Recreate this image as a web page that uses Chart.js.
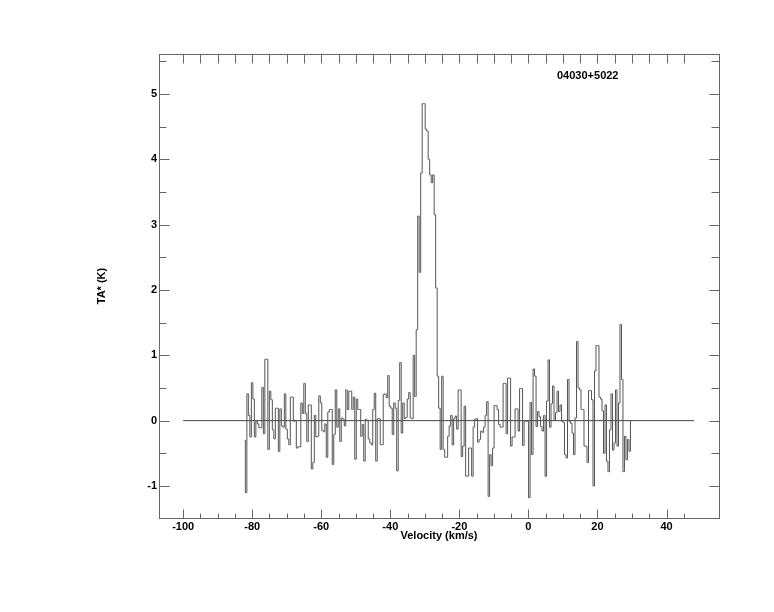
<!DOCTYPE html>
<html>
<head>
<meta charset="utf-8">
<script src="https://cdn.jsdelivr.net/npm/chart.js@4.4.0/dist/chart.umd.min.js"></script>
<style>
body { margin: 0; background: #fff; }
</style>
</head>
<body>
<canvas id="chart-spec" width="774" height="612"></canvas>
<script>
// spectrum of 04030+5022 : TA* (K) against velocity (km/s)
var sourceName = "04030+5022";
var velStart = -82.2;   // velocity of first channel
var velStep = 0.434;    // channel width
var ta = [
  -0.3, -1.1, 0.41, 0.08, -0.25, 0.58, 0.33, -0.25, -0.01, -0.05, -0.11, -0.11, 0.51, -0.2, 0.94, 0.94,
  -0.44, 0.45, 0.32, -0.14, -0.28, 0.19, 0.19, -0.47, 0.18, -0.08, -0.1, 0.41, -0.13, -0.28, -0.37, 0.36,
  0.36, -0.01, 0.0, -0.42, -0.4, -0.4, 0.27, 0.11,
  0.57, 0.11, -0.32, 0.24, 0.24, -0.74, -0.64, 0.08, -0.25, -0.24, 0.38, 0.27, -0.15, -0.17, -0.05, -0.56,
  0.13, 0.17, 0.17, -0.67, -0.21, 0.47, -0.1, 0.18, -0.32, 0.04, 0.02, -0.08, 0.47, 0.17, 0.45, 0.45,
  0.17, 0.36, -0.59, 0.33, 0.17, 0.17, -0.24, -0.06, -0.62, 0.02, 0.0, -0.28, -0.34,
  -0.37, 0.17, 0.42, -0.62, 0.03, 0.03, -0.37, -0.37, 0.40, 0.41, 0.35, 0.69, 0.22, 0.19, -0.21, 0.27,
  0.19, -0.77, 0.31, 0.89, -0.19, 0.27, 0.03, 0.05, 0.33, 0.43, 0.04, 0.03, 1.0, 0.37,
  1.39, 3.13, 2.27, 3.79, 4.85, 4.85, 4.46, 4.43, 4.0, 3.76, 3.64, 3.76, 3.15, 2.03,
  0.68, 0.19, -0.44, 0.68, -0.44, -0.56, -0.56, -0.24, -0.08, 0.08, -0.37, 0.03, 0.07, -0.13, 0.47, 0.47,
  -0.55, -0.39, 0.22, -0.85, -0.85, -0.42, -0.42, -0.85, -0.1, 0.02, 0.03, -0.33, -0.29, -0.16, -0.18, -0.1,
  0.08, 0.29, -1.16, -0.52, -0.69, -0.42, 0.23, 0.23, 0.17, -0.06, -0.1,
  -0.1, 0.57, 0.57, -0.2, 0.65, 0.65, -0.39, -0.25, -0.25, 0.18, 0.18, -0.16, 0.49, 0.49, -0.38, -0.01,
  -0.01, -0.01, -1.18, 0.28, -0.52, 0.79, 0.68, -0.09, 0.14, 0.06, -0.09, -0.16, 0.08, -0.85, 0.3, 0.93,
  -0.1, 0.26, 0.53, 0.0, 0.12, 0.45, 0.14, 0.24, -0.01, -0.03, -0.52, -0.57,
  0.63, -0.01, -0.04, -0.19, -0.52, 0.04, 1.21, 0.5, 0.47, 0.17, 0.17, -0.39, -0.39, -0.64, 0.46, 0.46,
  0.32, -1.0, 0.76, 1.15, 1.15, 0.36, 0.33, 0.15, -0.5, 0.24, -0.62, -0.78, -0.14, 0.41, -0.45, -0.34,
  0.47, -0.39, 0.27, 1.47, 0.63, -0.78, -0.24, -0.6, -0.29, -0.47, 0.0
];
var zeroLine = [-100, 48];   // velocity span of the zero level
var xLabels = [-100, -80, -60, -40, -20, 0, 20, 40];
var yLabels = [-1, 0, 1, 2, 3, 4, 5];
var xRange = [-107, 55.2];
var yRange = [-1.49, 5.61];

var spec = ta.map(function(t, i) {
    return {x: velStart + i * velStep, y: t};
});
var zero = zeroLine.map(function(v) {
    return {x: v, y: 0};
});

Chart.defaults.font.family = '"Liberation Sans", Arial, sans-serif';
Chart.defaults.font.size = 11;
Chart.defaults.font.weight = 'bold';
Chart.defaults.color = '#000';

// frame with inward ticks on all four sides, plus the source name
var frameTicks = {
    id: 'frameTicks',
    afterDraw: function(chart) {
        var ctx = chart.ctx, a = chart.chartArea;
        var xs = chart.scales.x, ys = chart.scales.y;
        ctx.save();
        ctx.strokeStyle = '#666';
        ctx.lineWidth = 1;
        var L = Math.round(a.left) + 0.5, R = Math.round(a.right) + 0.5;
        var T = Math.round(a.top) + 0.5, B = Math.round(a.bottom) + 0.5;
        ctx.strokeRect(L, T, R - L, B - T);
        ctx.beginPath();
        for (var v = -100; v <= 45; v += 5) {
            var px = Math.round(xs.getPixelForValue(v)) + 0.5;
            var major = v % 20 === 0;
            ctx.moveTo(px, B); ctx.lineTo(px, B - (major ? 9 : 5));
            ctx.moveTo(px, T); ctx.lineTo(px, T + 9);
        }
        for (var k = -2; k <= 11; k++) {
            var py = Math.round(ys.getPixelForValue(k / 2)) + 0.5;
            var whole = k % 2 === 0;
            ctx.moveTo(L, py); ctx.lineTo(L + (whole ? 10 : 7), py);
            ctx.moveTo(R, py); ctx.lineTo(R - (whole ? 10 : 8), py);
        }
        ctx.stroke();
        ctx.fillStyle = '#000';
        ctx.font = 'bold 11px "Liberation Sans", Arial, sans-serif';
        ctx.textBaseline = 'middle';
        ctx.textAlign = 'left';
        ctx.fillText(sourceName, 557, 76);
        ctx.restore();
    }
};

const ctx = document.getElementById('chart-spec').getContext('2d');
const myChart = new Chart(ctx, {
    type: 'line',
    data: {
        datasets: [{
            label: 'TA*',
            data: spec,
            borderColor: '#555',
            backgroundColor: 'transparent',
            borderWidth: 1,
            pointRadius: 0,
            stepped: 'middle'
        },
        {
            label: 'zero',
            data: zero,
            borderColor: '#444',
            backgroundColor: 'transparent',
            borderWidth: 1,
            pointRadius: 0
        }]
    },
    plugins: [frameTicks],
    options: {
        responsive: false,
        animation: false,
        devicePixelRatio: 1,
        layout: {
            padding: {left: 90, right: 55, top: 54, bottom: 69}
        },
        plugins: {
            legend: {display: false},
            tooltip: {enabled: false}
        },
        scales: {
            x: {
                type: 'linear',
                min: xRange[0],
                max: xRange[1],
                grid: {display: false, drawTicks: false},
                border: {display: false},
                ticks: {
                    stepSize: 20,
                    includeBounds: false,
                    autoSkip: false,
                    maxRotation: 0,
                    padding: 2,
                    callback: function(v) {
                        return xLabels.indexOf(v) >= 0 ? String(v) : '';
                    }
                },
                title: {
                    display: true,
                    text: 'Velocity (km/s)',
                    padding: {top: 0, bottom: 0}
                },
                afterFit: function(s) { s.height = 25; }
            },
            y: {
                min: yRange[0],
                max: yRange[1],
                grid: {display: false, drawTicks: false},
                border: {display: false},
                ticks: {
                    stepSize: 0.5,
                    includeBounds: false,
                    autoSkip: false,
                    padding: 2,
                    callback: function(v) {
                        var r = Math.round(v);
                        return (Math.abs(v - r) < 1e-6 && yLabels.indexOf(r) >= 0) ? String(r) : '';
                    }
                },
                title: {
                    display: true,
                    text: 'TA* (K)',
                    padding: {top: 4.9, bottom: 0}
                },
                afterFit: function(s) { s.width = 69; }
            }
        }
    }
});
</script>
</body>
</html>
